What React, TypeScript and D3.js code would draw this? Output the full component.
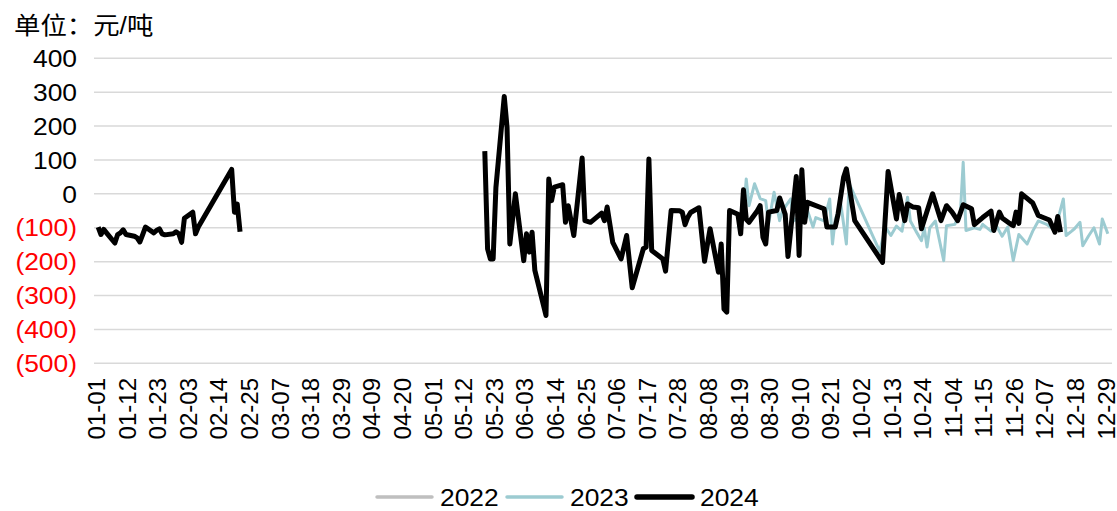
import React from "react";
import * as d3 from "d3";

const W = 1117;
const H = 511;

const yTicks = [400, 300, 200, 100, 0, -100, -200, -300, -400, -500];

const xTickLabels = [
  "01-01", "01-12", "01-23", "02-03", "02-14", "02-25", "03-07", "03-18", "03-29",
  "04-09", "04-20", "05-01", "05-12", "05-23", "06-03", "06-14", "06-25", "07-06",
  "07-17", "07-28", "08-08", "08-19", "08-30", "09-10", "09-21", "10-02", "10-13",
  "10-24", "11-04", "11-15", "11-26", "12-07", "12-18", "12-29",
];

const seriesNames = ["2022", "2023", "2024"];
const seriesColors = ["#bfbfbf", "#9ccbd1", "#000000"];

// 2022: no visible data
const dates22: string[] = [];
const vals22: number[] = [];

const dates23 = ["08-19","08-21","08-22","08-23","08-25","08-27","08-29","08-30","09-01","09-03","09-04","09-07","09-08","09-10","09-12","09-15","09-16","09-19","09-21","09-22","09-23","09-25","09-27","09-28","10-09","10-11","10-13","10-15","10-17","10-19","10-20","10-22","10-24","10-25","10-26","10-27","10-29","11-01","11-02","11-05","11-07","11-08","11-09","11-12","11-14","11-15","11-18","11-20","11-22","11-24","11-26","11-28","12-01","12-03","12-05","12-08","12-11","12-14","12-15","12-17","12-18","12-20","12-21","12-23","12-25","12-27","12-28","12-30"];
const vals23 = [-100,-60,44,-35,30,-14,-20,-90,5,-79,-50,-15,-80,-70,-25,-98,-70,-80,-15,-148,-75,-30,-148,30,-170,-98,-123,-95,-110,-10,-80,-110,-138,-100,-157,-100,-80,-197,-94,-90,-54,93,-108,-100,-105,-90,-110,-95,-125,-98,-197,-120,-148,-110,-80,-90,-108,-15,-123,-110,-103,-84,-153,-125,-100,-148,-74,-118];

const dates24a = ["01-02","01-03","01-04","01-05","01-08","01-09","01-10","01-11","01-12","01-15","01-16","01-17","01-18","01-19","01-22","01-23","01-24","01-25","01-26","01-29","01-30","01-31","02-01","02-02","02-05","02-06","02-07","02-19","02-20","02-21","02-22"];
const vals24a = [-98,-120,-105,-115,-145,-120,-115,-106,-120,-125,-130,-142,-120,-98,-115,-108,-103,-118,-121,-118,-112,-118,-143,-72,-54,-118,-98,72,-54,-30,-112];

const dates24b = ["05-20","05-21","05-22","05-23","05-24","05-27","05-28","05-29","05-31","06-03","06-04","06-05","06-06","06-07","06-11","06-12","06-13","06-14","06-17","06-18","06-19","06-21","06-24","06-25","06-27","07-01","07-02","07-03","07-05","07-08","07-10","07-12","07-16","07-17","07-18","07-19","07-23","07-24","07-26","07-29","07-30","07-31","08-01","08-02","08-05","08-07","08-09","08-12","08-13","08-14","08-15","08-16","08-19","08-20","08-21","08-22","08-23","08-26","08-27","08-28","08-29","08-30","09-02","09-03","09-05","09-06","09-09","09-10","09-11","09-12","09-13","09-18","09-19","09-20","09-23","09-24","09-26","09-27","09-30","10-10","10-12","10-15","10-16","10-18","10-19","10-21","10-23","10-24","10-28","10-31","11-02","11-04","11-06","11-08","11-11","11-12","11-15","11-18","11-19","11-21","11-22","11-25","11-26","11-27","11-28","11-29","12-03","12-05","12-09","12-11","12-12","12-13"];
const vals24b = [126,-162,-192,-192,19,287,196,-148,0,-197,-118,-172,-113,-226,-359,44,-20,20,27,-84,-35,-123,106,-79,-84,-57,-79,-39,-143,-192,-123,-277,-162,-157,103,-167,-192,-228,-49,-50,-54,-91,-69,-55,-41,-199,-103,-231,-148,-340,-349,-49,-60,-118,12,-75,-84,-50,-35,-128,-148,-54,-49,-12,-60,-185,51,-182,71,-84,-25,-41,-44,-98,-98,-60,49,74,-79,-202,66,-74,-2,-79,-30,-39,-41,-103,0,-79,-35,-54,-79,-32,-44,-91,-70,-51,-108,-54,-71,-89,-94,-54,-87,0,-27,-64,-77,-113,-67,-113];

const yearStart = new Date(2024, 0, 1);
const dayIndex = (md: string) => {
  const [m, d] = md.split("-").map(Number);
  return d3.timeDay.count(yearStart, new Date(2024, m - 1, d));
};

const plotLeft = 94;
const plotRight = 1112;
const nDays = 366;
const band = (plotRight - plotLeft) / nDays;

const x = d3.scaleLinear().domain([0, nDays - 1]).range([plotLeft + band / 2, plotRight - band / 2]);
const y = d3.scaleLinear().domain([-500, 400]).range([363.3, 58.3]);

const line = d3
  .line<[string, number]>()
  .x((p) => x(dayIndex(p[0])))
  .y((p) => y(p[1]));

const pts = (ds: string[], vs: number[]) => ds.map((d, i) => [d, vs[i]] as [string, number]);

const fontLatin = "'Liberation Sans', Arial, sans-serif";
const fontCJK = "'Liberation Sans', 'Noto Sans CJK SC', sans-serif";
const SX = 1.1;

const fmt = (v: number) => (v < 0 ? `(${Math.abs(v)})` : `${v}`);

export default function App() {
  const legendItems = [
    { lx: 377, tx: 440, w: 3.5 },
    { lx: 507, tx: 570, w: 3.5 },
    { lx: 637, tx: 700, w: 5.5 },
  ];
  return (
    <svg
      width={W}
      height={H}
      style={{ position: "absolute", left: 0, top: 0, background: "#fff" }}
    >
      <text transform={`translate(14,34) scale(${SX},1)`} fontFamily={fontCJK} fontSize={24} fill="#000">
        单位：元/吨
      </text>
      {yTicks.map((t) => (
        <g key={t}>
          <line x1={plotLeft} x2={plotRight} y1={y(t)} y2={y(t)} stroke="#d9d9d9" strokeWidth={1.5} />
          <text
            transform={`translate(77,${y(t)}) scale(${SX},1)`}
            dy="0.36em"
            textAnchor="end"
            fontFamily={fontLatin}
            fontSize={24}
            fill={t < 0 ? "#ff0000" : "#000"}
          >
            {fmt(t)}
          </text>
        </g>
      ))}
      {xTickLabels.map((lab) => {
        const cx = x(dayIndex(lab));
        return (
          <text
            key={lab}
            transform={`translate(${cx + 1},378) rotate(-90)`}
            dy="0.36em"
            textAnchor="end"
            fontFamily={fontLatin}
            fontSize={24}
            fill="#000"
          >
            {lab}
          </text>
        );
      })}
      <path d={line(pts(dates22, vals22)) || ""} fill="none" stroke={seriesColors[0]} strokeWidth={3} />
      <path d={line(pts(dates23, vals23)) || ""} fill="none" stroke={seriesColors[1]} strokeWidth={3} strokeLinejoin="round" />
      <path d={line(pts(dates24a, vals24a)) || ""} fill="none" stroke={seriesColors[2]} strokeWidth={5} strokeLinejoin="round" />
      <path d={line(pts(dates24b, vals24b)) || ""} fill="none" stroke={seriesColors[2]} strokeWidth={5} strokeLinejoin="round" />
      {seriesNames.map((name, i) => (
        <g key={name}>
          <line
            x1={legendItems[i].lx}
            x2={legendItems[i].lx + 55}
            y1={497}
            y2={497}
            stroke={seriesColors[i]}
            strokeWidth={legendItems[i].w}
            strokeLinecap="round"
          />
          <text
            transform={`translate(${legendItems[i].tx},497) scale(${SX},1)`}
            dy="0.36em"
            fontFamily={fontLatin}
            fontSize={24}
            fill="#000"
          >
            {name}
          </text>
        </g>
      ))}
    </svg>
  );
}
